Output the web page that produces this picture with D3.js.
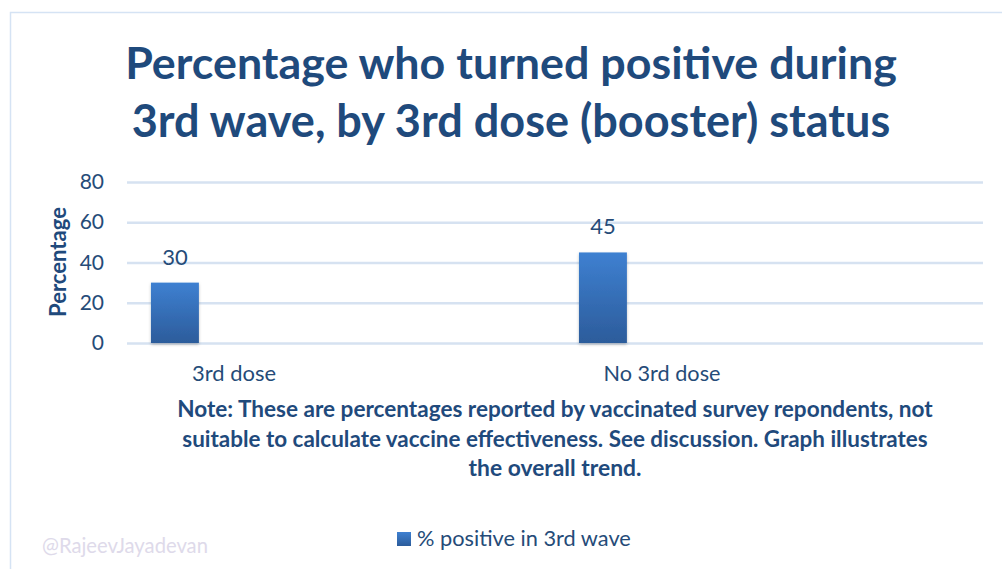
<!DOCTYPE html>
<html>
<head>
<meta charset="utf-8">
<script src="https://cdn.jsdelivr.net/npm/d3@7"></script>
<style>
  body { margin: 0; background: #fff; }
  svg { display: block; font-family: Lato, "Open Sans", sans-serif; }
</style>
</head>
<body>
<div id="chart"></div>
<script>
// data
var categories = ["3rd dose", "", "No 3rd dose", " "];
var values = [30, null, 45, null];
var yTicks = [0, 20, 40, 60, 80];
var seriesName = "% positive in 3rd wave";
var titleLines = ["Percentage who turned positive during", "3rd wave, by 3rd dose (booster) status"];
var noteLines = [
  "Note: These are percentages reported by vaccinated survey repondents, not",
  "suitable to calculate vaccine effectiveness. See discussion. Graph illustrates",
  "the overall trend."
];
var yLabel = "Percentage";
var watermark = "@RajeevJayadevan";

var W = 1002, H = 569;
var navy = "#1f4a7c";
var plot = {left: 127, right: 983, top: 182, bottom: 343};

var svg = d3.select("#chart").append("svg")
  .attr("width", W)
  .attr("height", H);

var defs = svg.append("defs");
var grad = defs.append("linearGradient")
  .attr("id", "barGrad")
  .attr("x1", 0).attr("y1", 0).attr("x2", 0).attr("y2", 1);
grad.append("stop").attr("offset", "0%").attr("stop-color", "#3e80d1");
grad.append("stop").attr("offset", "100%").attr("stop-color", "#2c5c9b");

var shadow = defs.append("filter").attr("id", "shadow")
  .attr("x", "-20%").attr("y", "-20%").attr("width", "140%").attr("height", "140%");
shadow.append("feDropShadow")
  .attr("dx", 0).attr("dy", 1.5).attr("stdDeviation", 1.5)
  .attr("flood-color", "#000").attr("flood-opacity", 0.25);

// chart border (runs off right/bottom edge)
svg.append("rect")
  .attr("x", 10.5).attr("y", 12.5)
  .attr("width", W + 20).attr("height", H + 20)
  .attr("fill", "none")
  .attr("stroke", "#d5e3f4")
  .attr("stroke-width", 1.5);

// fit a text element to a given width by tuning its font size
function fitWidth(sel, target) {
  sel.each(function() {
    var fs = parseFloat(d3.select(this).style("font-size"));
    var w = this.getComputedTextLength();
    d3.select(this).style("font-size", (fs * target / w) + "px");
  });
}

// title
var title = svg.append("g").attr("class", "title");
var titleWidths = [772, 759];
titleLines.forEach(function(t, i) {
  title.append("text")
    .attr("x", 511)
    .attr("y", 79 + i * 58)
    .attr("text-anchor", "middle")
    .attr("fill", navy)
    .style("font-weight", "bold")
    .style("font-size", "42px")
    .text(t)
    .call(fitWidth, titleWidths[i]);
});

var x = d3.scaleBand()
  .domain(categories)
  .range([plot.left, plot.right]);

var y = d3.scaleLinear()
  .domain([0, 80])
  .range([plot.bottom, plot.top]);

// gridlines + y ticks
var yAxis = svg.append("g")
  .attr("transform", "translate(" + plot.left + ",0)")
  .call(d3.axisLeft(y)
    .tickValues(yTicks)
    .tickSize(-(plot.right - plot.left))
    .tickPadding(23));

yAxis.select(".domain").remove();
yAxis.selectAll(".tick line")
  .attr("stroke", "#d6e2f1")
  .attr("stroke-width", 2.5);
yAxis.selectAll(".tick text")
  .attr("fill", "#254b78")
  .style("font-size", "21px")
  .style("font-family", "Lato, sans-serif");

svg.append("text")
  .attr("transform", "translate(66,262) rotate(-90)")
  .attr("text-anchor", "middle")
  .attr("fill", navy)
  .style("font-weight", "bold")
  .style("font-size", "19px")
  .text(yLabel)
  .call(fitWidth, 110);

// bars
var barW = x.bandwidth() * 0.224;
var barOff = x.bandwidth() * 0.112;
var barData = categories.map(function(c, i) { return {cat: c, v: values[i]}; })
  .filter(function(d) { return d.v != null; });

svg.append("g").selectAll("rect")
  .data(barData)
  .enter().append("rect")
    .attr("x", function(d) { return x(d.cat) + barOff; })
    .attr("y", function(d) { return y(d.v); })
    .attr("width", barW)
    .attr("height", function(d) { return y(0) - y(d.v); })
    .attr("fill", "url(#barGrad)")
    .attr("filter", "url(#shadow)");

svg.append("g").selectAll("text")
  .data(barData)
  .enter().append("text")
    .attr("x", function(d) { return x(d.cat) + barOff + barW / 2; })
    .attr("y", function(d) { return y(d.v) - 18; })
    .attr("text-anchor", "middle")
    .attr("fill", "#254b78")
    .style("font-size", "22px")
    .text(function(d) { return d.v; });

// category labels
var catWidths = {"3rd dose": 84, "No 3rd dose": 117};
svg.append("g").selectAll("text")
  .data(categories.filter(function(c) { return c.trim() !== ""; }))
  .enter().append("text")
    .attr("x", function(d) { return x(d) + x.bandwidth() / 2; })
    .attr("y", 381)
    .attr("text-anchor", "middle")
    .attr("fill", "#254b78")
    .style("font-size", "20px")
    .text(function(d) { return d; })
    .each(function(d) { d3.select(this).call(fitWidth, catWidths[d]); });

// note
var noteWidths = [756, 746, 173];
noteLines.forEach(function(t, i) {
  svg.append("text")
    .attr("x", 555)
    .attr("y", 417 + i * 29.5)
    .attr("text-anchor", "middle")
    .attr("fill", navy)
    .style("font-weight", "bold")
    .style("font-size", "18px")
    .text(t)
    .call(fitWidth, noteWidths[i]);
});

// legend
var legend = svg.append("g").attr("transform", "translate(397,532)");
legend.append("rect")
  .attr("width", 14).attr("height", 14)
  .attr("fill", "url(#barGrad)");
legend.append("text")
  .attr("x", 20).attr("y", 14)
  .attr("fill", "#254b78")
  .style("font-size", "20px")
  .text(seriesName)
  .call(fitWidth, 214);

// watermark
svg.append("text")
  .attr("x", 42).attr("y", 553)
  .attr("fill", "#dedaea")
  .style("font-size", "17px")
  .text(watermark)
  .call(fitWidth, 166);
</script>
</body>
</html>
